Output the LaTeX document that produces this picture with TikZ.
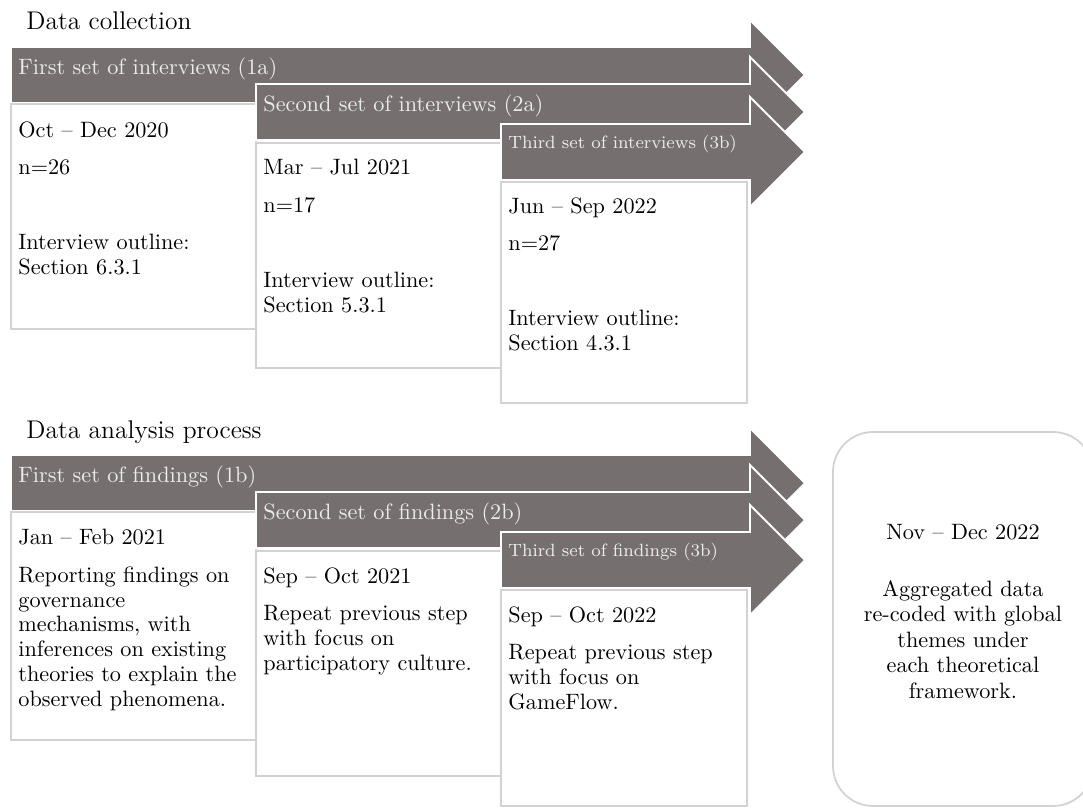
\documentclass[tikz,border=0pt]{standalone}
\usetikzlibrary{positioning, fit}

\definecolor{stagegrey}{RGB}{117,112,111}
\definecolor{labelgrey}{RGB}{236,236,236}
\definecolor{framegrey}{RGB}{210,210,210}

\begin{document}
\begin{tikzpicture}[
  x=0.45pt, y=-0.45pt,
  stage/.style={fill=stagegrey, draw=white, line width=0.8pt},
  stagelbl/.style={anchor=base west, inner sep=0pt, text=labelgrey},
  infobox/.style={draw=framegrey, fill=white, line width=0.7pt, inner sep=0pt},
  infotxt/.style={anchor=north west, inner sep=0pt, align=left,
                  font=\fontsize{10pt}{11.2pt}\selectfont},
  title/.style={anchor=base west, inner sep=0pt,
                font=\fontsize{11.5pt}{14pt}\selectfont},
  summary/.style={draw=framegrey, line width=0.8pt, rounded corners=18pt,
                  inner sep=0pt, align=center,
                  font=\fontsize{10pt}{11.5pt}\selectfont}
]
\useasboundingbox (0,0) rectangle (1083,808);

% data collection
\node[title] (dc) at (26,29) {Data collection};

\path[stage] (11,47) -- (750,47) -- (750,20) -- (805,75) -- (750,130) -- (750,103) -- (11,103) -- cycle;
\node[stagelbl] (a1) at (18,74) {First set of interviews (1a)};
\node[infobox, fit={(11,104) (256,329)}] (b1) {};
\node[infotxt] (t1) at (18,121) {Oct -- Dec 2020\\[5.6pt] n=26\\[22.7pt] Interview outline:\\ Section 6.3.1};

\path[stage] (256,84) -- (750,84) -- (750,57) -- (805,112) -- (750,167) -- (750,140) -- (256,140) -- cycle;
\node[stagelbl] (a2) at (263,111) {Second set of interviews (2a)};
\node[infobox, fit={(256,143) (501,368)}] (b2) {};
\node[infotxt] (t2) at (263,159) {Mar -- Jul 2021\\[5.6pt] n=17\\[22.7pt] Interview outline:\\ Section 5.3.1};

\path[stage] (501,124) -- (750,124) -- (750,97) -- (805,152) -- (750,207) -- (750,180) -- (501,180) -- cycle;
\node[stagelbl, font=\footnotesize] (a3) at (508,148) {Third set of interviews (3b)};
\node[infobox, fit={(501,182) (747,403)}] (b3) {};
\node[infotxt] (t3) at (508,197) {Jun -- Sep 2022\\[5.6pt] n=27\\[22.7pt] Interview outline:\\ Section 4.3.1};

% data analysis
\begin{scope}[shift={(0,408)}]
\node[title] (da) at (26,30) {Data analysis process};

\path[stage] (11,47) -- (750,47) -- (750,20) -- (805,75) -- (750,130) -- (750,103) -- (11,103) -- cycle;
\node[stagelbl] (f1) at (18,74) {First set of findings (1b)};
\node[infobox, fit={(11,104) (256,332)}] (c1) {};
\node[infotxt] (u1) at (18,121) {Jan -- Feb 2021\\[5.6pt] Reporting findings on\\ governance\\ mechanisms, with\\ inferences on existing\\ theories to explain the\\ observed phenomena.};

\path[stage] (256,84) -- (750,84) -- (750,57) -- (805,112) -- (750,167) -- (750,140) -- (256,140) -- cycle;
\node[stagelbl] (f2) at (263,111) {Second set of findings (2b)};
\node[infobox, fit={(256,143) (501,368)}] (c2) {};
\node[infotxt] (u2) at (263,159) {Sep -- Oct 2021\\[5.6pt] Repeat previous step\\ with focus on\\ participatory culture.};

\path[stage] (501,124) -- (750,124) -- (750,97) -- (805,152) -- (750,207) -- (750,180) -- (501,180) -- cycle;
\node[stagelbl, font=\footnotesize] (f3) at (508,148) {Third set of findings (3b)};
\node[infobox, fit={(501,182) (747,398)}] (c3) {};
\node[infotxt] (u3) at (508,198) {Sep -- Oct 2022\\[5.6pt] Repeat previous step\\ with focus on\\ GameFlow.};
\end{scope}

\node[summary, fit={(833,432) (1093,806)}] (sum) {Nov -- Dec 2022\\[14pt] Aggregated data\\ re-coded with global\\ themes under\\ each theoretical\\ framework.};

\end{tikzpicture}
\end{document}
